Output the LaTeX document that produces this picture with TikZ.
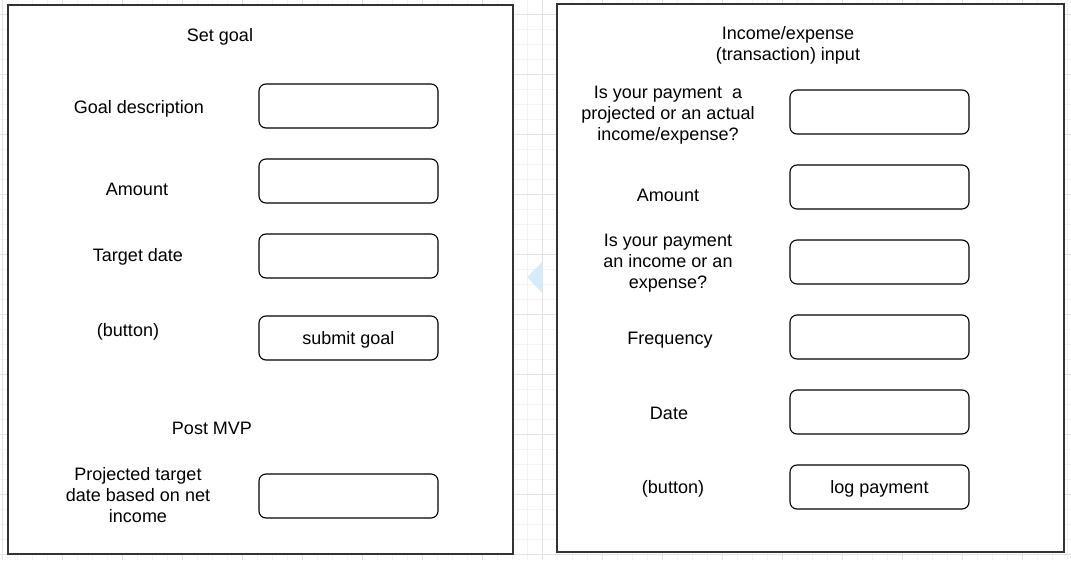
\documentclass[tikz,border=0pt]{standalone}
\usepackage{fontspec}
\setmainfont{Liberation Sans}
\usepackage{tikz}
\definecolor{gridMinor}{RGB}{243, 243, 243}
\definecolor{gridMajor}{RGB}{226, 226, 226}
\definecolor{panelLine}{RGB}{51, 51, 51}
\definecolor{hintBlue}{RGB}{213, 236, 249}

\tikzset{
  panel/.style={draw=panelLine, line width=1.5pt, fill=white},
  field/.style={draw=black, line width=1.1pt, rounded corners=7pt, fill=white,
    minimum width=179pt, minimum height=44pt, inner sep=0pt, text depth=0pt,
    font=\fontsize{18}{21}\selectfont},
  lbl/.style={align=center, inner sep=0pt, text depth=0pt, font=\fontsize{18}{21}\selectfont}
}

\begin{document}
\begin{tikzpicture}[x=1pt, y=-1pt]
      \useasboundingbox (0,0) rectangle (1071,560);
      \fill[white] (0,0) rectangle (1071,560);
      % background grid
      \foreach \x in {2,17,...,1067} \draw[gridMinor, line width=0.8pt] (\x,0) -- (\x,560);
      \foreach \y in {14,29,...,554} \draw[gridMinor, line width=0.8pt] (0,\y) -- (1071,\y);
      \foreach \x in {2,62,...,1067} \draw[gridMajor, line width=0.8pt] (\x,0) -- (\x,560);
      \foreach \y in {14,74,...,554} \draw[gridMajor, line width=0.8pt] (0,\y) -- (1071,\y);

      \draw[panel] (8,5) rectangle (513,554);
      \draw[panel] (557,4) rectangle (1064,552);

      \fill[hintBlue] (527,277) -- (542,262) -- (542,293) -- cycle;

      % set goal form
      \node[lbl] (goalTitle) at (220,35) {Set goal};
      \node[lbl] (goalDesc) at (139,107) {Goal description};
      \node[field] (goalDescBox) at (348.5,106) {};
      \node[lbl] (goalAmount) at (137,189) {Amount};
      \node[field] (goalAmountBox) at (348.5,181) {};
      \node[lbl] (goalDate) at (138,255) {Target date};
      \node[field] (goalDateBox) at (348.5,256) {};
      \node[lbl] (goalBtn) at (128,330) {(button)};
      \node[field] (goalSubmit) at (348.5,338) {submit goal};
      \node[lbl] (postMvp) at (212,428) {Post MVP};
      \node[lbl] (projDate) at (138,495) {Projected target\\date based on net\\income};
      \node[field] (projDateBox) at (348.5,496) {};

      % transaction form
      \node[lbl] (txTitle) at (788,43) {Income/expense\\(transaction) input};
      \node[lbl] (txKind) at (668,113) {Is your payment\ \ a\\projected or an actual\\income/expense?};
      \node[field] (txKindBox) at (879.5,112) {};
      \node[lbl] (txAmount) at (668,195) {Amount};
      \node[field] (txAmountBox) at (879.5,187) {};
      \node[lbl] (txType) at (668,261) {Is your payment\\an income or an\\expense?};
      \node[field] (txTypeBox) at (879.5,262) {};
      \node[lbl] (txFreq) at (670,338) {Frequency};
      \node[field] (txFreqBox) at (879.5,337) {};
      \node[lbl] (txDate) at (669,413) {Date};
      \node[field] (txDateBox) at (879.5,412) {};
      \node[lbl] (txBtn) at (673,487) {(button)};
      \node[field] (txLog) at (879.5,487) {log payment};
    \end{tikzpicture}
\end{document}
